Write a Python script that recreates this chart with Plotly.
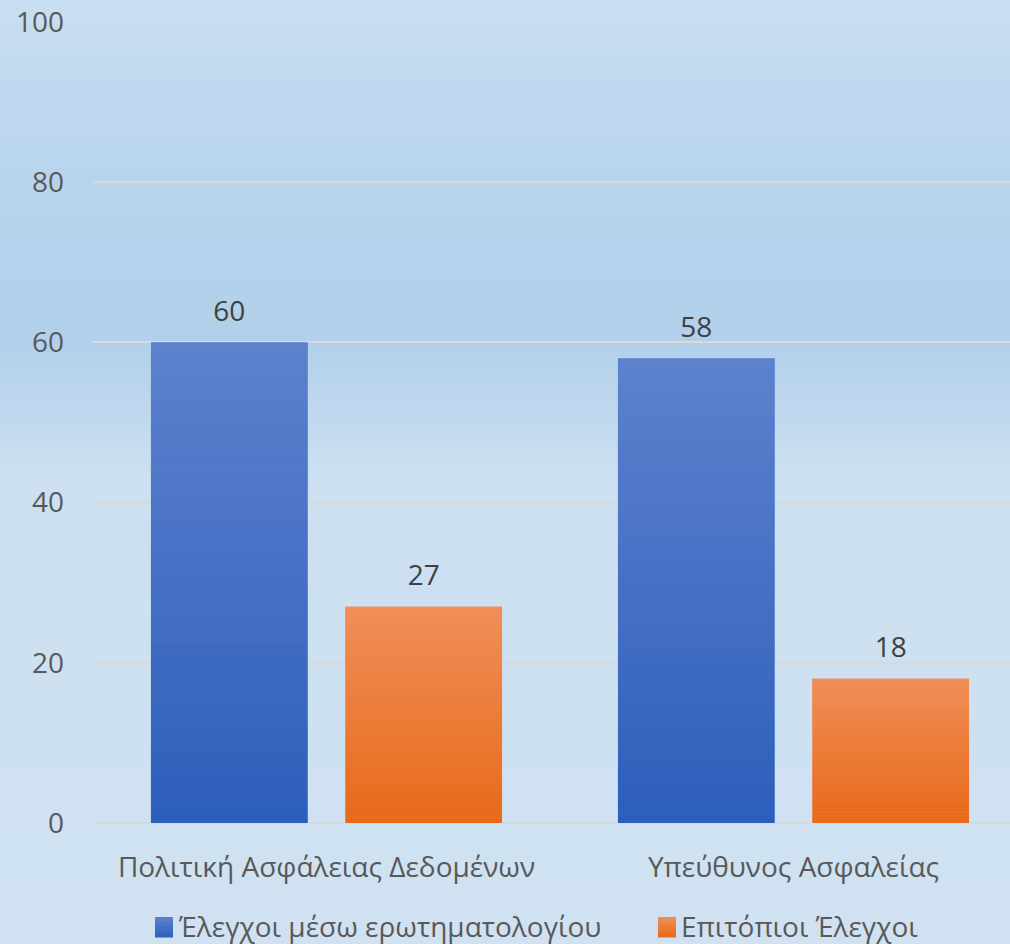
import plotly.graph_objects as go

categories = ["Πολιτική Ασφάλειας Δεδομένων", "Υπεύθυνος Ασφαλείας"]
series_names = ["Έλεγχοι μέσω ερωτηματολογίου", "Επιτόπιοι Έλεγχοι"]
questionnaire = [60, 58]
onsite = [27, 18]
y_ticks = [0, 20, 40, 60, 80, 100]

FONT = "Open Sans"
W, H = 1010, 944
M_L, M_R, M_T, M_B = 93, 0, 22, 121
plot_w = W - M_L - M_R
plot_h = H - M_T - M_B

# gradient colours (top -> bottom)
blue_top, blue_bot = (93, 130, 205), (45, 94, 187)
orange_top, orange_bot = (240, 143, 89), (232, 105, 24)

def lerp(c1, c2, t):
    return "rgb(%d,%d,%d)" % tuple(round(a + (b - a) * t) for a, b in zip(c1, c2))

def px_x(px):
    return (px - M_L) / plot_w

def px_y(py):
    return (H - M_B - py) / plot_h

fig = go.Figure()

N = 40
for name, vals, top, bot, grp in [
    (series_names[0], questionnaire, blue_top, blue_bot, "q"),
    (series_names[1], onsite, orange_top, orange_bot, "o"),
]:
    # full bar (base layer)
    fig.add_trace(go.Bar(
        x=categories, y=vals, name=name, offsetgroup=grp,
        marker=dict(color=lerp(top, bot, 0.45), line=dict(width=0)),
        hoverinfo="skip", showlegend=False,
    ))
    # gradient segments
    for k in range(N):
        t = (k + 0.5) / N  # 0 bottom -> 1 top
        fig.add_trace(go.Bar(
            x=categories, y=[v / N for v in vals], base=[v * k / N for v in vals],
            offsetgroup=grp, showlegend=False, hoverinfo="skip",
            marker=dict(color=lerp(bot, top, t), line=dict(width=0)),
        ))

# value labels
for vals, grp in [(questionnaire, "q"), (onsite, "o")]:
    fig.add_trace(go.Scatter(
        x=categories, y=vals, mode="markers+text", offsetgroup=grp,
        text=[str(v) for v in vals], textposition="top center",
        marker=dict(size=22, opacity=0), showlegend=False, hoverinfo="skip",
        textfont=dict(family=FONT, size=28, color="#404040"), cliponaxis=False,
    ))

# background gradient (pixel y from top, colour)
stops = [(0, (201, 222, 242)), (180, (184, 212, 237)), (340, (178, 208, 235)),
         (480, (204, 224, 241)), (944, (208, 226, 242))]
shapes = []
band = 8
for py in range(0, H, band):
    yc = py + band / 2
    for (p0, c0), (p1, c1) in zip(stops[:-1], stops[1:]):
        if p0 <= yc <= p1:
            col = lerp(c0, c1, (yc - p0) / (p1 - p0))
            break
    shapes.append(dict(type="rect", xref="paper", yref="paper", x0=-0.2, x1=1.1,
                       y0=px_y(py + band + 1), y1=px_y(py), fillcolor=col,
                       line=dict(width=0), layer="below"))

# legend (swatch + text), drawn manually to match the original spacing
annotations = []
legend_items = [
    (series_names[0], blue_top, blue_bot, 155),
    (series_names[1], orange_top, orange_bot, 658),
]
sw_w, sw_top, sw_bot = 18, 917, 937
for label, top, bot, sx in legend_items:
    steps = 6
    for i in range(steps):
        y_a = sw_top + (sw_bot - sw_top) * i / steps
        y_b = sw_top + (sw_bot - sw_top) * (i + 1) / steps
        shapes.append(dict(type="rect", xref="paper", yref="paper",
                           x0=px_x(sx), x1=px_x(sx + sw_w), y0=px_y(y_b + 0.5), y1=px_y(y_a),
                           fillcolor=lerp(top, bot, (i + 0.5) / steps),
                           line=dict(width=0), layer="above"))
    annotations.append(dict(text=label, xref="paper", yref="paper",
                            x=px_x(sx + sw_w + 3), y=px_y(926), xanchor="left", yanchor="middle",
                            showarrow=False,
                            font=dict(family=FONT, size=28, color="#595959")))

fig.update_layout(
    width=W, height=H,
    margin=dict(l=M_L, r=M_R, t=M_T, b=M_B, pad=0, autoexpand=False),
    barmode="group", bargap=0.167, bargroupgap=0.195,
    scattermode="group", scattergap=0.167,
    paper_bgcolor="rgb(207,225,242)", plot_bgcolor="rgba(0,0,0,0)",
    shapes=shapes, annotations=annotations,
    font=dict(family=FONT, size=28, color="#595959"),
    showlegend=False,
    xaxis=dict(range=[-0.5, 1.4636], showgrid=False, zeroline=False, showline=False,
               ticks="", ticklabelstandoff=25,
               tickfont=dict(family=FONT, size=28, color="#595959")),
    yaxis=dict(range=[0, 100], tickvals=y_ticks, showgrid=True, gridcolor="#d9d9d9",
               gridwidth=2, zeroline=True, zerolinecolor="#d9d9d9", zerolinewidth=2,
               showline=False, ticks="", ticklabelstandoff=28,
               tickfont=dict(family=FONT, size=28, color="#595959")),
)

fig.write_html("out.html", config={"displayModeBar": False},
               post_script="document.body.style.margin='0';")
